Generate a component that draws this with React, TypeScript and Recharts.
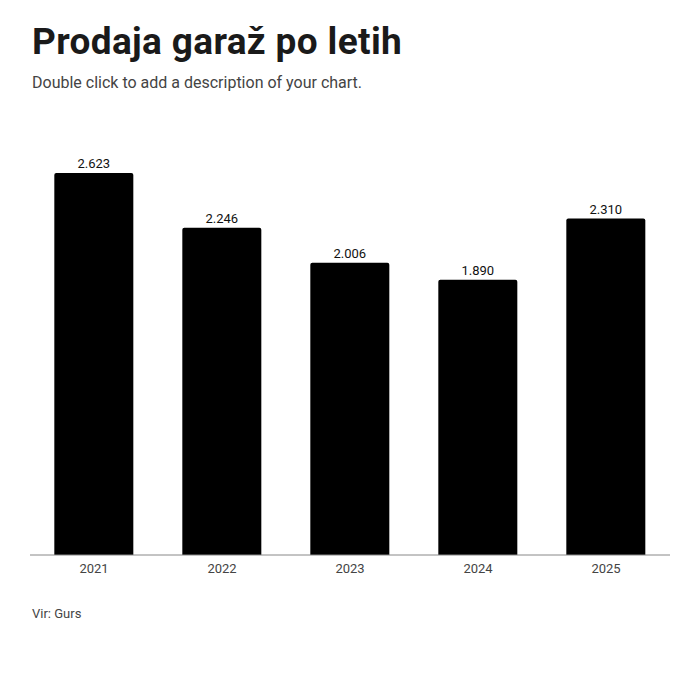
import { BarChart, Bar, XAxis, YAxis, LabelList } from "recharts";

const YEARS = ["2021", "2022", "2023", "2024", "2025"];
const SALES = [2623, 2246, 2006, 1890, 2310];

const data = YEARS.map((y, i) => ({ year: y, value: SALES[i] }));

const fmt = (v: number) => String(v).replace(/\B(?=(\d{3})+(?!\d))/g, ".");

export default function App() {
  return (
    <div style={{ position: "relative", width: 700, height: 700, background: "#fff", fontFamily: "Roboto, sans-serif" }}>
      <style>{`body{margin:0}`}</style>
      <div style={{ position: "absolute", left: 32, top: 20, fontSize: 37, fontWeight: 700, color: "#1a1a1a", fontFamily: "Roboto, sans-serif", letterSpacing: 0.35, whiteSpace: "nowrap" }}>
        Prodaja garaž po letih
      </div>
      <div style={{ position: "absolute", left: 32, top: 73, fontSize: 16, color: "#444" }}>
        Double click to add a description of your chart.
      </div>
      <div style={{ position: "absolute", left: 0, top: 0 }}>
        <BarChart width={700} height={600} data={data} margin={{ top: 118, right: 30, left: 30, bottom: 15 }} barCategoryGap="19%">
          <XAxis dataKey="year" height={30} tickLine={false} tickMargin={3} axisLine={{ stroke: "#888" }} tick={{ fontSize: 13, fill: "#444" }} />
          <YAxis hide domain={[0, 3000]} />
          <Bar dataKey="value" fill="#000" radius={[2, 2, 0, 0]} isAnimationActive={false}>
            <LabelList dataKey="value" position="top" offset={5} formatter={(v: any) => fmt(Number(v))} style={{ fontSize: 13, fill: "#111" }} />
          </Bar>
        </BarChart>
      </div>
      <div style={{ position: "absolute", left: 32, top: 606, fontSize: 13, color: "#444" }}>Vir: Gurs</div>
    </div>
  );
}
